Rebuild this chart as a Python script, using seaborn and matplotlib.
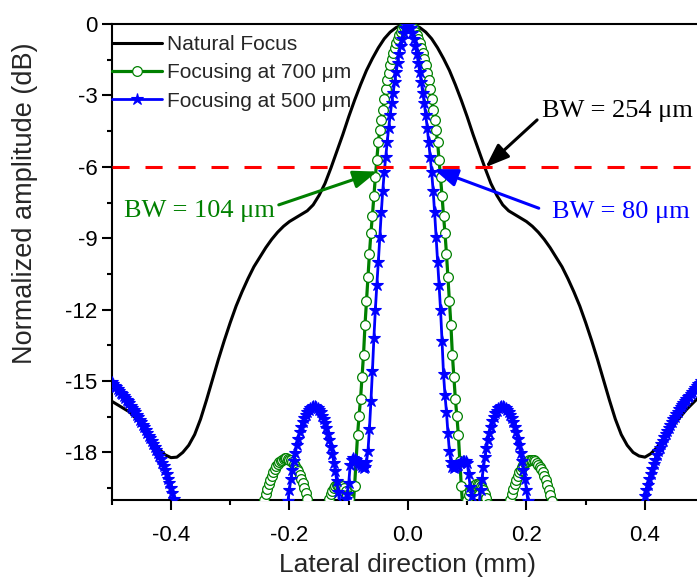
import numpy as np
import pandas as pd
import matplotlib
matplotlib.use("Agg")
import matplotlib.pyplot as plt
from matplotlib.ticker import FixedLocator
import seaborn as sns

# ---------------------------------------------------------------------------
# Lateral beam profiles (normalized amplitude in dB)
# ---------------------------------------------------------------------------
HALF_MAX_DB = -6.0

# Natural focus: sampled every 0.01 mm from -0.5 mm to 0.5 mm
natural_x0, natural_step = -0.5, 0.01
natural_db = [
    -15.85, -16.0, -16.15, -16.3, -16.55, -16.8, -17.15, -17.5, -17.85, -18.1,
    -18.22, -18.2, -18.0, -17.7, -17.25, -16.6, -15.8, -14.95, -14.1, -13.3,
    -12.55, -11.85, -11.25, -10.7, -10.2, -9.8, -9.4, -9.05, -8.75, -8.5,
    -8.3, -8.15, -8.0, -7.85, -7.6, -7.2, -6.7, -6.05, -5.35, -4.65,
    -3.9, -3.2, -2.55, -1.95, -1.45, -1.0, -0.62, -0.34, -0.15, -0.04,
    0.0,
    -0.04, -0.15, -0.34, -0.62, -1.0, -1.45, -1.95, -2.55, -3.2, -3.9,
    -4.65, -5.35, -6.05, -6.7, -7.2, -7.6, -7.85, -8.0, -8.15, -8.3,
    -8.5, -8.75, -9.05, -9.4, -9.8, -10.2, -10.7, -11.25, -11.85, -12.55,
    -13.3, -14.1, -14.95, -15.8, -16.6, -17.25, -17.7, -18.0, -18.15, -18.2,
    -18.05, -17.8, -17.45, -17.1, -16.8, -16.5, -16.2, -15.95, -15.7, -15.45,
]

# Focused profiles: sampled every 0.0025 mm; each lobe is given by its
# first sample position and the run of values that follows it.
STEP_MM = 0.0025

# Focusing at 700 um
f700_far_left_x0 = -0.2500
f700_far_left = [
    -21.0, -20.6, -20.30, -20.01, -19.75, -19.53, -19.33, -19.14, -18.98, -18.83,
    -18.70, -18.59, -18.50, -18.42, -18.35, -18.30, -18.27, -18.25, -18.25, -18.27,
    -18.30, -18.34, -18.40, -18.48, -18.57, -18.68, -18.80, -18.94, -19.10, -19.28,
    -19.48, -19.70, -19.95, -20.25, -20.6, -21.2,
]
f700_near_left_x0 = -0.1375
f700_near_left = [
    -20.5, -20.2, -19.95, -19.76, -19.62, -19.51, -19.43, -19.38, -19.35, -19.35,
    -19.38, -19.43, -19.51, -19.62, -19.77, -19.96, -20.25,
]
f700_main_x0 = -0.0950
f700_main = [
    -21.5, -20.3, -19.4, -18.35, -17.25, -16.45, -15.75, -14.85, -13.9, -12.65,
    -11.65, -10.65, -9.65, -8.78, -8.05, -7.21, -6.42, -5.70, -4.95, -4.45,
    -4.05, -3.62, -3.17, -2.75, -2.37, -2.05, -1.74, -1.46, -1.22, -1.00,
    -0.80, -0.62, -0.46, -0.32, -0.21, -0.12, -0.06, -0.02, 0.00,
    -0.02, -0.06, -0.12, -0.21, -0.32, -0.46, -0.62, -0.80, -1.00, -1.22,
    -1.46, -1.74, -2.05, -2.37, -2.75, -3.17, -3.62, -4.05, -4.45, -4.95,
    -5.70, -6.42, -7.21, -8.05, -8.78, -9.65, -10.65, -11.65, -12.65, -13.9,
    -14.85, -15.75, -16.45, -17.25, -18.35, -19.4, -20.3, -21.5,
]
f700_near_right_x0 = 0.0975
f700_near_right = [
    -20.3, -19.98, -19.77, -19.61, -19.49, -19.41, -19.36, -19.34, -19.34, -19.37,
    -19.42, -19.5, -19.6, -19.74, -19.92, -20.15, -20.5,
]
f700_far_right_x0 = 0.1650
f700_far_right = [
    -21.2, -20.65, -20.3, -20.0, -19.74, -19.52, -19.32, -19.14, -18.98, -18.84,
    -18.72, -18.61, -18.52, -18.45, -18.39, -18.35, -18.32, -18.30, -18.31, -18.33,
    -18.37, -18.43, -18.51, -18.60, -18.71, -18.84, -18.99, -19.16, -19.35, -19.56,
    -19.79, -20.04, -20.35, -20.7, -21.2,
]

# Focusing at 500 um
f500_outer_left_x0 = -0.5000
f500_outer_left = [
    -15.05, -15.12, -15.19, -15.26, -15.33, -15.41, -15.49, -15.56, -15.63, -15.71,
    -15.78, -15.86, -15.94, -16.03, -16.13, -16.22, -16.32, -16.42, -16.52, -16.63,
    -16.73, -16.84, -16.95, -17.06, -17.17, -17.29, -17.40, -17.52, -17.64, -17.76,
    -17.89, -18.02, -18.15, -18.29, -18.44, -18.59, -18.75, -18.92, -19.10, -19.30,
    -19.50, -19.72, -19.96, -20.25, -20.6, -21.0,
]
f500_side_left_x0 = -0.2075
f500_side_left = [
    -21.3, -20.6, -20.05, -19.56, -19.11, -18.72, -18.35, -18.01, -17.70, -17.42,
    -17.16, -16.94, -16.74, -16.57, -16.42, -16.30, -16.20, -16.13, -16.08, -16.06,
    -16.06, -16.09, -16.14, -16.22, -16.32, -16.45, -16.60, -16.78, -16.98, -17.21,
    -17.46, -17.77, -18.08, -18.43, -18.80, -19.22, -19.68, -20.16, -21.0,
]
f500_main_x0 = -0.1100
f500_main = [
    -21.5, -20.5, -19.95, -19.75, -19.3, -18.55, -18.3, -18.25, -18.28, -18.33,
    -18.4, -18.47, -18.55, -18.62, -18.67, -18.6, -18.4, -17.95, -17.0, -15.85,
    -14.6, -13.2, -12.0, -10.95, -10.0, -8.95, -7.92, -7.00, -6.22, -5.58,
    -4.95, -4.35, -3.82, -3.33, -2.88, -2.45, -2.03, -1.63, -1.26, -0.92,
    -0.62, -0.37, -0.17, -0.04, 0.00,
    -0.04, -0.17, -0.37, -0.62, -0.92, -1.26, -1.63, -2.03, -2.45, -2.88,
    -3.33, -3.82, -4.35, -4.95, -5.58, -6.22, -7.00, -7.92, -8.95, -10.0,
    -10.95, -12.0, -13.3, -14.7, -15.6, -16.3, -17.2, -17.95, -18.4, -18.6,
    -18.65, -18.62, -18.57, -18.51, -18.45, -18.4, -18.37, -18.36, -18.38, -18.45,
    -18.9, -19.45, -19.85, -20.4, -21.5,
]
f500_side_right_x0 = 0.1150
f500_side_right = [
    -21.3, -20.6, -20.15, -19.6, -19.1, -18.62, -18.2, -17.82, -17.48, -17.18,
    -16.92, -16.7, -16.51, -16.36, -16.24, -16.15, -16.09, -16.06, -16.06, -16.08,
    -16.13, -16.2, -16.3, -16.42, -16.57, -16.74, -16.94, -17.16, -17.42, -17.7,
    -18.01, -18.35, -18.72, -19.11, -19.56, -20.05, -20.6, -21.3,
]
f500_outer_right_x0 = 0.3925
f500_outer_right = [
    -21.5, -20.6, -20.2, -19.85, -19.6, -19.36, -19.13, -18.91, -18.7, -18.5,
    -18.3, -18.12, -17.95, -17.8, -17.64, -17.5, -17.35, -17.21, -17.08, -16.96,
    -16.84, -16.72, -16.61, -16.5, -16.39, -16.29, -16.19, -16.1, -16.01, -15.93,
    -15.85, -15.77, -15.69, -15.61, -15.53, -15.45, -15.37, -15.29, -15.21, -15.14,
    -15.07, -15.0, -14.93, -14.86,
]

series_labels = ["Natural Focus", "Focusing at 700 \u03bcm", "Focusing at 500 \u03bcm"]
bw_labels = ["BW = 254 \u03bcm", "BW = 104 \u03bcm", "BW = 80 \u03bcm"]

x_ticks = [-0.4, -0.2, 0.0, 0.2, 0.4]
x_minor_ticks = [-0.5, -0.3, -0.1, 0.1, 0.3, 0.5]
y_ticks = [0, -3, -6, -9, -12, -15, -18]
y_minor_ticks = [-1.5, -4.5, -7.5, -10.5, -13.5, -16.5, -19.5]


def lobes_to_frame(pieces, step):
    xs, ys = [], []
    for x0, vals in pieces:
        xs.extend(np.round(x0 + step * np.arange(len(vals)), 5))
        ys.extend(vals)
    return pd.DataFrame({"x": xs, "db": ys})


df_nat = lobes_to_frame([(natural_x0, natural_db)], natural_step)
df_700 = lobes_to_frame([
    (f700_far_left_x0, f700_far_left),
    (f700_near_left_x0, f700_near_left),
    (f700_main_x0, f700_main),
    (f700_near_right_x0, f700_near_right),
    (f700_far_right_x0, f700_far_right),
], STEP_MM)
df_500 = lobes_to_frame([
    (f500_outer_left_x0, f500_outer_left),
    (f500_side_left_x0, f500_side_left),
    (f500_main_x0, f500_main),
    (f500_side_right_x0, f500_side_right),
    (f500_outer_right_x0, f500_outer_right),
], STEP_MM)

# ---------------------------------------------------------------------------
# Figure
# ---------------------------------------------------------------------------
sns.set_theme(style="ticks")
plt.rcParams["font.family"] = ["Liberation Sans", "DejaVu Sans"]
plt.rcParams["axes.unicode_minus"] = False

W, H = 697, 582
fig = plt.figure(figsize=(W / 100, H / 100), dpi=100)
ax = fig.add_axes([111.7 / W, 1 - 500 / H, 592.5 / W, 476 / H])

GREEN = "#008000"
BLUE = "#0000ff"

sns.lineplot(data=df_nat, x="x", y="db", ax=ax, color="black", lw=2.2,
             errorbar=None, label=series_labels[0], zorder=2)
sns.lineplot(data=df_700, x="x", y="db", ax=ax, color=GREEN, lw=2.3,
             errorbar=None, marker="o", markersize=7,
             markerfacecolor="white", markeredgecolor=GREEN,
             markeredgewidth=0.9, label=series_labels[1], zorder=3)
sns.lineplot(data=df_500, x="x", y="db", ax=ax, color=BLUE, lw=2.0,
             errorbar=None, marker="*", markersize=9,
             markerfacecolor=BLUE, markeredgecolor=BLUE,
             markeredgewidth=0.8, label=series_labels[2], zorder=4)

ax.axhline(HALF_MAX_DB, color="#ff0000", lw=2.2, dashes=(5.6, 5.2), zorder=5)

ax.set_xlim(-0.5, 0.5)
ax.set_ylim(-20, 0)
ax.set_xticks(x_ticks)
ax.set_xticklabels([f"{v:.1f}" for v in x_ticks])
ax.set_yticks(y_ticks)
ax.set_yticklabels([str(v) for v in y_ticks])
ax.xaxis.set_minor_locator(FixedLocator(x_minor_ticks))
ax.yaxis.set_minor_locator(FixedLocator(y_minor_ticks))

ax.tick_params(which="major", direction="out", length=7.2, width=1.5,
               labelsize=16, color="black", labelcolor="black")
ax.tick_params(which="minor", direction="out", length=3.6, width=1.5, color="black")
ax.tick_params(axis="x", which="major", pad=11)
ax.tick_params(axis="y", which="major", pad=3)
ax.tick_params(top=False, right=False, which="both")

for side in ["left", "bottom", "top"]:
    ax.spines[side].set_linewidth(1.5)
    ax.spines[side].set_color("black")
ax.spines["right"].set_visible(False)

ax.set_xlabel("Lateral direction (mm)", fontsize=19)
ax.set_ylabel("Normalized amplitude (dB)", fontsize=19.5)
# x-label anchored by its top edge just under the tick labels
ax.xaxis.set_label_coords(0.5, -0.111)
ax.yaxis.set_label_coords(-0.124, 0.624)

leg = ax.legend(loc="upper left", bbox_to_anchor=(0.0, 1 - 11 / 476),
                frameon=False, fontsize=15, borderpad=0, borderaxespad=0,
                handlelength=2.4, handletextpad=0.25, labelspacing=0.45)

# Beam-width annotations
serif = ["Liberation Serif", "DejaVu Serif"]
arrow_style = "-|>,head_length=0.8,head_width=0.3"

ax.annotate("", xy=(0.1308, -6.02), xytext=(0.218, -4.03),
            arrowprops=dict(arrowstyle=arrow_style, color="black", lw=2.2,
                            mutation_scale=18, shrinkA=0, shrinkB=0), zorder=6)
ax.text(0.2265, -3.895, bw_labels[0], family=serif, fontsize=19,
        color="black", ha="left", va="baseline", zorder=6)

ax.annotate("", xy=(-0.052, -6.2), xytext=(-0.218, -7.6),
            arrowprops=dict(arrowstyle=arrow_style, color=GREEN, lw=2.2,
                            mutation_scale=18, shrinkA=0, shrinkB=0), zorder=6)
ax.text(-0.4797, -8.12, bw_labels[1], family=serif, fontsize=19,
        color=GREEN, ha="left", va="baseline", zorder=6)

ax.annotate("", xy=(0.0435, -6.1), xytext=(0.2208, -7.74),
            arrowprops=dict(arrowstyle=arrow_style, color=BLUE, lw=2.2,
                            mutation_scale=18, shrinkA=0, shrinkB=0), zorder=6)
ax.text(0.2434, -8.16, bw_labels[2], family=serif, fontsize=19,
        color=BLUE, ha="left", va="baseline", zorder=6)

fig.savefig("out.png", dpi=100)
